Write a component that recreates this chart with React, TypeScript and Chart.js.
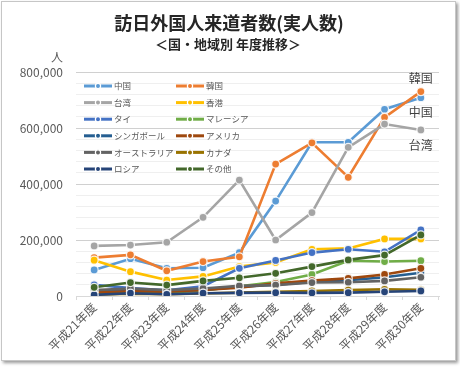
import React, { useEffect, useRef } from 'react';
import { Chart, registerables } from 'chart.js';
Chart.register(...registerables);

const categories = ['平成21年度', '平成22年度', '平成23年度', '平成24年度', '平成25年度', '平成26年度', '平成27年度', '平成28年度', '平成29年度', '平成30年度'];
const china = [93000, 133000, 99000, 101000, 155000, 339000, 549000, 549000, 667000, 708000];
const korea = [137000, 147000, 90000, 123000, 140000, 471000, 547000, 424000, 638000, 730000];
const taiwan = [179000, 182000, 192000, 281000, 414000, 200000, 298000, 531000, 614000, 593000];
const hongkong = [128000, 87000, 57000, 70000, 105000, 120000, 167000, 170000, 204000, 204000];
const thailand = [40000, 28000, 20000, 35000, 99000, 127000, 155000, 167000, 158000, 236000];
const malaysia = [10000, 15000, 12000, 20000, 35000, 50000, 77000, 126000, 123000, 126000];
const singapore = [15000, 22000, 17000, 22000, 32000, 40000, 50000, 56000, 67000, 83000];
const usa = [12000, 17000, 15000, 22000, 30000, 45000, 55000, 63000, 77000, 99000];
const australia = [21000, 27000, 21000, 27000, 36000, 39000, 48000, 49000, 54000, 67000];
const canada = [5000, 8000, 6000, 9000, 12000, 15000, 18000, 21000, 24000, 22000];
const russia = [4000, 10000, 6000, 10000, 11000, 12000, 11000, 12000, 15000, 18000];
const others = [31000, 48000, 39000, 54000, 65000, 81000, 105000, 129000, 146000, 218000];

const seriesNames = ['中国', '韓国', '台湾', '香港', 'タイ', 'マレーシア', 'シンガポール', 'アメリカ', 'オーストラリア', 'カナダ', 'ロシア', 'その他'];
const seriesValues = [china, korea, taiwan, hongkong, thailand, malaysia, singapore, usa, australia, canada, russia, others];
const seriesColors = ['#5B9BD5', '#ED7D31', '#A5A5A5', '#FFC000', '#4472C4', '#70AD47', '#255E91', '#9E480E', '#636363', '#997300', '#264478', '#43682B'];

const titleText = '訪日外国人来道者数(実人数)';
const subtitleText = '＜国・地域別 年度推移＞';
const unitText = '人';
const endLabels = [
  { series: 1, text: '韓国', dy: -13 },
  { series: 0, text: '中国', dy: 15 },
  { series: 2, text: '台湾', dy: 15 },
];

const FONT = "'Noto Sans CJK JP', 'Noto Sans', sans-serif";

const decorPlugin = {
  id: 'decor',
  afterDatasetsDraw(chart: any) {
    const ctx = chart.ctx;
    ctx.save();
    ctx.fillStyle = '#262626';
    ctx.textAlign = 'center';
    ctx.textBaseline = 'middle';
    ctx.font = `bold 18px ${FONT}`;
    ctx.fillText(titleText, 229, 23);
    ctx.font = `bold 13px ${FONT}`;
    ctx.fillText(subtitleText, 228, 44);
    ctx.fillStyle = '#595959';
    ctx.font = `12px ${FONT}`;
    ctx.fillText(unitText, 57, 57);
    chart.data.datasets.forEach((ds: any, i: number) => {
      const col = i % 2;
      const row = Math.floor(i / 2);
      const x0 = col ? 176 : 84;
      const y = 86 + row * 16.6;
      ctx.strokeStyle = ds.borderColor;
      ctx.lineWidth = 3;
      ctx.beginPath();
      ctx.moveTo(x0, y);
      ctx.lineTo(x0 + 28, y);
      ctx.stroke();
      ctx.beginPath();
      ctx.arc(x0 + 14, y, 2.6, 0, Math.PI * 2);
      ctx.fillStyle = ds.borderColor;
      ctx.fill();
      ctx.strokeStyle = '#ffffff';
      ctx.lineWidth = 1.2;
      ctx.stroke();
      ctx.fillStyle = '#595959';
      ctx.font = `8.5px ${FONT}`;
      ctx.textAlign = 'left';
      ctx.fillText(ds.label, x0 + 30, y);
    });
    ctx.fillStyle = '#404040';
    ctx.font = `12px ${FONT}`;
    ctx.textAlign = 'center';
    endLabels.forEach((l) => {
      const meta = chart.getDatasetMeta(l.series);
      const pt = meta.data[meta.data.length - 1];
      if (pt) ctx.fillText(l.text, pt.x, pt.y + l.dy);
    });
    ctx.restore();
  },
};

export default function App() {
  const ref = useRef<HTMLCanvasElement>(null);
  useEffect(() => {
    if (!ref.current) return;
    const chart = new Chart(ref.current, {
      type: 'line',
      data: {
        labels: categories,
        datasets: seriesNames.map((name, i) => ({
          label: name,
          data: seriesValues[i],
          borderColor: seriesColors[i],
          backgroundColor: seriesColors[i],
          borderWidth: 2.6,
          pointRadius: 4,
          pointBorderColor: 'rgba(255,255,255,0.85)',
          pointBorderWidth: 1.3,
          pointBackgroundColor: seriesColors[i],
          tension: 0,
          order: seriesNames.length - i,
        })),
      },
      options: {
        responsive: false,
        animation: false,
        events: [],
        layout: { padding: { left: 0, right: 21, top: 72, bottom: 0 } },
        plugins: {
          legend: { display: false },
          title: { display: false },
          tooltip: { enabled: false },
        },
        scales: {
          x: {
            offset: true,
            grid: {
              offset: true,
              drawOnChartArea: false,
              drawTicks: true,
              tickLength: 4,
              color: '#d9d9d9',
            },
            border: { display: true, color: '#d9d9d9', width: 1 },
            ticks: {
              autoSkip: false,
              minRotation: 45,
              maxRotation: 45,
              color: '#595959',
              font: { size: 12, family: FONT },
              padding: 0,
            },
            afterFit(scale: any) {
              scale.height = 71;
            },
          },
          y: {
            min: 0,
            max: 800000,
            grid: {
              drawTicks: false,
              color: (c: any) => (c.tick && c.tick.value % 200000 === 0 ? '#d0d0d0' : '#efefef'),
              lineWidth: 1,
            },
            border: { display: false },
            ticks: {
              stepSize: 40000,
              autoSkip: false,
              padding: 13,
              color: '#595959',
              font: { size: 12, family: FONT },
              callback: (v: any) => (Number(v) % 200000 === 0 ? Number(v).toLocaleString('en-US') : ''),
            },
            afterFit(scale: any) {
              scale.width = 76;
            },
          },
        },
      },
      plugins: [decorPlugin],
    } as any);
    return () => chart.destroy();
  }, []);
  return (
    <div style={{ position: 'absolute', left: 0, top: 0, width: 460, height: 367, background: '#fff' }}>
      <canvas ref={ref} width={460} height={367} style={{ display: 'block', width: 460, height: 367 }} />
      <div
        style={{
          position: 'absolute',
          left: 1,
          top: 1,
          width: 455,
          height: 360,
          boxSizing: 'border-box',
          border: '1px solid #c6c6c6',
          boxShadow: '2px 2px 3px rgba(0,0,0,0.4)',
          pointerEvents: 'none',
        }}
      />
    </div>
  );
}
